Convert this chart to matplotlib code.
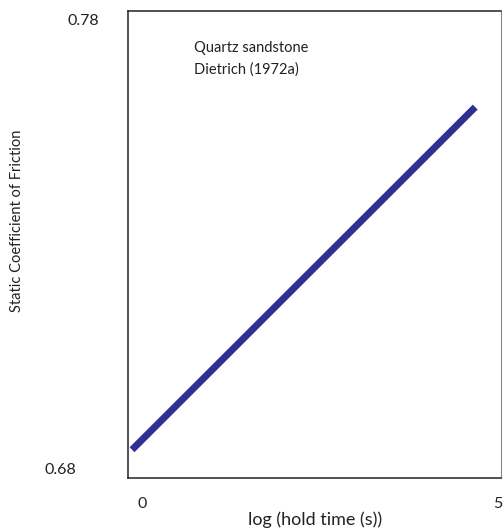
import numpy as np
import matplotlib
matplotlib.use('Agg')
import matplotlib.pyplot as plt
import matplotlib.transforms as mtransforms

plt.rcParams['font.family'] = ['Lato', 'DejaVu Sans']

# trend line end points (log hold time, static friction)
log_time = [-0.14, 4.68]
mu_static = [0.6845, 0.7608]

x_ticks = [0, 5]
y_ticks = [0.68, 0.78]
y_tick_labels = ['0.68', '0.78']
# the labels in the original are not aligned, keep their offsets (axes fraction)
y_label_x = [-0.139, -0.0777]

fig = plt.figure(figsize=(5.03, 5.32), dpi=100)
ax = fig.add_axes([0.2545, 0.1015, 0.7415, 0.8778])

ax.plot(log_time, mu_static, color='#2e3192', lw=5, solid_capstyle='butt')

ax.set_xlim(-0.197, 5.042)
ax.set_ylim(0.6782, 0.7822)

ax.set_xticks(x_ticks)
ax.set_xticklabels([str(t) for t in x_ticks])
ax.set_yticks(y_ticks)
ax.set_yticklabels([])
ax.tick_params(length=0, labelsize=11.5, colors='#222222')
ax.tick_params(axis='x', pad=14)

trans = mtransforms.blended_transform_factory(ax.transAxes, ax.transData)
for xx, yy, lab in zip(y_label_x, y_ticks, y_tick_labels):
    ax.text(xx, yy, lab, transform=trans, ha='right', va='center',
            fontsize=11.5, color='#222222')

for s in ax.spines.values():
    s.set_linewidth(1.1)
    s.set_color('#222222')
ax.spines['right'].set_color('#888888')
ax.spines['right'].set_linewidth(0.8)

ax.text(0.178, 0.935, 'Quartz sandstone\nDietrich (1972a)', transform=ax.transAxes,
        fontsize=10.5, va='top', ha='left', linespacing=1.6, color='#222222')

fig.text(0.034, 0.585, 'Static Coefficient of Friction', rotation=90,
         ha='center', va='center', fontsize=10.5, color='#222222')
fig.text(0.626, 0.024, 'log (hold time (s))', ha='center', va='center',
         fontsize=13, color='#222222')

fig.savefig('out.png', dpi=100)
